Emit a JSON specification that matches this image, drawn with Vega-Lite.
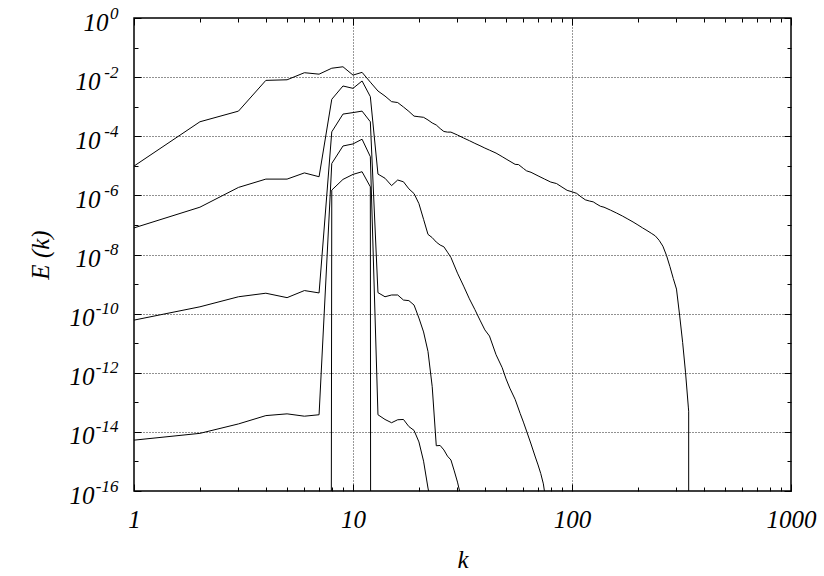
{
  "$schema": "https://vega.github.io/schema/vega-lite/v6.json",
  "width": 657,
  "height": 473,
  "autosize": {"type": "none"},
  "padding": {"left": 134, "top": 18, "right": 33, "bottom": 85},
  "background": "white",
  "config": {
    "view": {"stroke": "black", "strokeWidth": 1.5},
    "axis": {
      "labelFont": "Liberation Serif",
      "labelFontStyle": "italic",
      "labelFontSize": 25,
      "labelColor": "black",
      "titleFont": "Liberation Serif",
      "titleFontStyle": "italic",
      "titleFontWeight": "normal",
      "titleFontSize": 25,
      "titleColor": "black",
      "tickColor": "black",
      "tickWidth": 1
    }
  },
  "data": {"values": [
    {"s":"a","k":1,"E":9.8e-6},{"s":"a","k":2,"E":3.09e-4},{"s":"a","k":3,"E":7.08e-4},{"s":"a","k":4,"E":7.76e-3},{"s":"a","k":5,"E":8.13e-3},{"s":"a","k":6,"E":1.41e-2},{"s":"a","k":7,"E":1.26e-2},{"s":"a","k":8,"E":2.0e-2},{"s":"a","k":9,"E":2.24e-2},{"s":"a","k":10,"E":1.17e-2},{"s":"a","k":11,"E":1.45e-2},{"s":"a","k":12,"E":6.76e-3},{"s":"a","k":13,"E":3.39e-3},{"s":"a","k":14,"E":2.29e-3},{"s":"a","k":15,"E":1.48e-3},{"s":"a","k":16,"E":1.38e-3},{"s":"a","k":17,"E":9.77e-4},{"s":"a","k":18,"E":6.92e-4},{"s":"a","k":19,"E":4.79e-4},{"s":"a","k":20,"E":4.57e-4},{"s":"a","k":21,"E":4.37e-4},{"s":"a","k":22,"E":3.55e-4},{"s":"a","k":23,"E":2.82e-4},{"s":"a","k":24,"E":2.40e-4},{"s":"a","k":25,"E":1.82e-4},{"s":"a","k":26,"E":1.45e-4},{"s":"a","k":27,"E":1.38e-4},{"s":"a","k":28,"E":1.38e-4},{"s":"a","k":30,"E":1.10e-4},{"s":"a","k":32,"E":8.71e-5},{"s":"a","k":34,"E":7.08e-5},{"s":"a","k":36,"E":5.75e-5},{"s":"a","k":38,"E":4.79e-5},{"s":"a","k":40,"E":3.98e-5},{"s":"a","k":42,"E":3.39e-5},{"s":"a","k":45,"E":2.69e-5},{"s":"a","k":48,"E":2.04e-5},{"s":"a","k":50,"E":1.70e-5},{"s":"a","k":55,"E":1.12e-5},{"s":"a","k":57,"E":1.10e-5},{"s":"a","k":60,"E":8.13e-6},{"s":"a","k":62,"E":6.76e-6},{"s":"a","k":65,"E":6.03e-6},{"s":"a","k":70,"E":4.57e-6},{"s":"a","k":75,"E":3.55e-6},{"s":"a","k":80,"E":2.82e-6},{"s":"a","k":85,"E":2.51e-6},{"s":"a","k":90,"E":1.91e-6},{"s":"a","k":95,"E":1.48e-6},{"s":"a","k":100,"E":1.32e-6},{"s":"a","k":105,"E":1.17e-6},{"s":"a","k":110,"E":8.91e-7},{"s":"a","k":115,"E":7.08e-7},{"s":"a","k":120,"E":6.46e-7},{"s":"a","k":125,"E":6.03e-7},{"s":"a","k":130,"E":5.01e-7},{"s":"a","k":135,"E":4.27e-7},{"s":"a","k":140,"E":3.98e-7},{"s":"a","k":150,"E":3.16e-7},{"s":"a","k":160,"E":2.51e-7},{"s":"a","k":170,"E":2.0e-7},{"s":"a","k":180,"E":1.58e-7},{"s":"a","k":190,"E":1.26e-7},{"s":"a","k":200,"E":1.0e-7},{"s":"a","k":210,"E":7.94e-8},{"s":"a","k":220,"E":6.46e-8},{"s":"a","k":230,"E":5.25e-8},{"s":"a","k":240,"E":4.27e-8},{"s":"a","k":250,"E":3.02e-8},{"s":"a","k":260,"E":1.91e-8},{"s":"a","k":270,"E":9.33e-9},{"s":"a","k":280,"E":3.89e-9},{"s":"a","k":290,"E":1.55e-9},{"s":"a","k":300,"E":6.76e-10},{"s":"a","k":310,"E":8.91e-11},{"s":"a","k":320,"E":1.07e-11},{"s":"a","k":330,"E":1.0e-12},{"s":"a","k":340,"E":6.46e-14},{"s":"a","k":341,"E":5.0e-14},{"s":"a","k":342,"E":1e-300},
    {"s":"b","k":1,"E":7.94e-8},{"s":"b","k":2,"E":3.98e-7},{"s":"b","k":3,"E":1.86e-6},{"s":"b","k":4,"E":3.55e-6},{"s":"b","k":5,"E":3.55e-6},{"s":"b","k":6,"E":5.75e-6},{"s":"b","k":7,"E":4.27e-6},{"s":"b","k":8,"E":1.78e-3},{"s":"b","k":9,"E":5.01e-3},{"s":"b","k":10,"E":4.17e-3},{"s":"b","k":11,"E":7.41e-3},{"s":"b","k":12,"E":2.19e-3},{"s":"b","k":13,"E":5.25e-6},{"s":"b","k":14,"E":3.80e-6},{"s":"b","k":15,"E":2.14e-6},{"s":"b","k":16,"E":3.31e-6},{"s":"b","k":17,"E":2.88e-6},{"s":"b","k":18,"E":1.66e-6},{"s":"b","k":19,"E":1.15e-6},{"s":"b","k":20,"E":5.25e-7},{"s":"b","k":21,"E":1.55e-7},{"s":"b","k":22,"E":4.79e-8},{"s":"b","k":23,"E":3.72e-8},{"s":"b","k":24,"E":2.63e-8},{"s":"b","k":25,"E":2.09e-8},{"s":"b","k":26,"E":1.82e-8},{"s":"b","k":27,"E":1.20e-8},{"s":"b","k":28,"E":7.94e-9},{"s":"b","k":30,"E":2.34e-9},{"s":"b","k":32,"E":8.51e-10},{"s":"b","k":34,"E":3.16e-10},{"s":"b","k":36,"E":1.38e-10},{"s":"b","k":38,"E":6.03e-11},{"s":"b","k":40,"E":2.82e-11},{"s":"b","k":42,"E":1.74e-11},{"s":"b","k":45,"E":4.07e-12},{"s":"b","k":48,"E":1.48e-12},{"s":"b","k":50,"E":6.17e-13},{"s":"b","k":52,"E":3.02e-13},{"s":"b","k":55,"E":1.26e-13},{"s":"b","k":58,"E":4.17e-14},{"s":"b","k":60,"E":2.14e-14},{"s":"b","k":62,"E":1.07e-14},{"s":"b","k":65,"E":3.89e-15},{"s":"b","k":68,"E":1.41e-15},{"s":"b","k":70,"E":7.59e-16},{"s":"b","k":72,"E":3.89e-16},{"s":"b","k":74,"E":1.74e-16},{"s":"b","k":75,"E":8.9e-17},
    {"s":"c","k":1,"E":6.03e-11},{"s":"c","k":2,"E":1.70e-10},{"s":"c","k":3,"E":3.72e-10},{"s":"c","k":4,"E":4.90e-10},{"s":"c","k":5,"E":3.47e-10},{"s":"c","k":6,"E":6.03e-10},{"s":"c","k":7,"E":5.01e-10},{"s":"c","k":8,"E":1.41e-4},{"s":"c","k":9,"E":5.62e-4},{"s":"c","k":10,"E":6.31e-4},{"s":"c","k":11,"E":7.08e-4},{"s":"c","k":12,"E":3.09e-4},{"s":"c","k":13,"E":5.13e-10},{"s":"c","k":14,"E":3.72e-10},{"s":"c","k":15,"E":4.27e-10},{"s":"c","k":16,"E":4.27e-10},{"s":"c","k":17,"E":2.88e-10},{"s":"c","k":18,"E":2.75e-10},{"s":"c","k":19,"E":1.95e-10},{"s":"c","k":20,"E":7.08e-11},{"s":"c","k":21,"E":2.40e-11},{"s":"c","k":22,"E":5.25e-12},{"s":"c","k":23,"E":3.39e-13},{"s":"c","k":24,"E":3.39e-15},{"s":"c","k":25,"E":3.47e-15},{"s":"c","k":26,"E":2.45e-15},{"s":"c","k":27,"E":1.51e-15},{"s":"c","k":28,"E":1.12e-15},{"s":"c","k":29,"E":4.79e-16},{"s":"c","k":30,"E":2.0e-16},{"s":"c","k":31,"E":7.2e-17},
    {"s":"d","k":1,"E":5.25e-15},{"s":"d","k":2,"E":8.91e-15},{"s":"d","k":3,"E":1.86e-14},{"s":"d","k":4,"E":3.55e-14},{"s":"d","k":5,"E":4.07e-14},{"s":"d","k":6,"E":3.39e-14},{"s":"d","k":7,"E":3.80e-14},{"s":"d","k":8,"E":1.20e-5},{"s":"d","k":9,"E":4.68e-5},{"s":"d","k":10,"E":5.50e-5},{"s":"d","k":11,"E":7.94e-5},{"s":"d","k":12,"E":2.04e-5},{"s":"d","k":13,"E":3.80e-14},{"s":"d","k":14,"E":2.63e-14},{"s":"d","k":15,"E":2.04e-14},{"s":"d","k":16,"E":2.57e-14},{"s":"d","k":17,"E":2.63e-14},{"s":"d","k":18,"E":1.51e-14},{"s":"d","k":19,"E":1.12e-14},{"s":"d","k":20,"E":4.57e-15},{"s":"d","k":21,"E":1.02e-15},{"s":"d","k":22,"E":1.26e-16},{"s":"d","k":23,"E":2.5e-17},
    {"s":"e","k":7,"E":1e-300},{"s":"e","k":8,"E":1.51e-6},{"s":"e","k":9,"E":3.47e-6},{"s":"e","k":10,"E":5.13e-6},{"s":"e","k":11,"E":6.31e-6},{"s":"e","k":12,"E":1.95e-6},{"s":"e","k":13,"E":1e-300}
  ]},
  "layer": [
    {
      "mark": {"type": "point", "opacity": 0},
      "encoding": {
        "x": {"field": "k", "type": "quantitative", "scale": {"type": "log", "domain": [1, 1000], "nice": false},
              "axis": {"orient": "bottom", "values": [10, 100], "grid": true, "gridColor": "#333", "gridDash": [1, 2], "gridWidth": 1, "ticks": false, "labels": false, "domain": false, "title": null}},
        "y": {"field": "E", "type": "quantitative", "scale": {"type": "log", "domain": [1e-16, 1], "nice": false},
              "axis": {"orient": "left", "values": [1e-2, 1e-4, 1e-6, 1e-8, 1e-10, 1e-12, 1e-14], "grid": true, "gridColor": "#222", "gridDash": [1, 2], "gridWidth": 1, "ticks": false, "labels": false, "domain": false, "title": null}}
      }
    },
    {
      "mark": {"type": "point", "opacity": 0},
      "encoding": {
        "x": {"field": "k", "type": "quantitative", "scale": {"type": "log", "domain": [1, 1000], "nice": false},
              "axis": {"orient": "bottom", "values": [1, 10, 100, 1000], "grid": false, "ticks": true, "tickSize": -7, "labels": false, "domain": false, "title": null}},
        "y": {"field": "E", "type": "quantitative", "scale": {"type": "log", "domain": [1e-16, 1], "nice": false},
              "axis": {"orient": "left", "values": [1, 1e-2, 1e-4, 1e-6, 1e-8, 1e-10, 1e-12, 1e-14, 1e-16], "grid": false, "ticks": true, "tickSize": -7, "labels": false, "domain": false, "title": null}}
      }
    },
    {
      "mark": {"type": "point", "opacity": 0},
      "encoding": {
        "x": {"field": "k", "type": "quantitative", "scale": {"type": "log", "domain": [1, 1000], "nice": false},
              "axis": {"orient": "top", "values": [1, 10, 100, 1000], "grid": false, "ticks": true, "tickSize": -7, "labels": false, "domain": false, "title": null}},
        "y": {"field": "E", "type": "quantitative", "scale": {"type": "log", "domain": [1e-16, 1], "nice": false},
              "axis": {"orient": "right", "values": [1, 1e-2, 1e-4, 1e-6, 1e-8, 1e-10, 1e-12, 1e-14, 1e-16], "grid": false, "ticks": true, "tickSize": -7, "labels": false, "domain": false, "title": null}}
      }
    },
    {
      "mark": {"type": "point", "opacity": 0},
      "encoding": {
        "x": {"field": "k", "type": "quantitative", "scale": {"type": "log", "domain": [1, 1000], "nice": false},
              "axis": {"orient": "bottom", "values": [2, 3, 4, 5, 6, 7, 8, 9, 20, 30, 40, 50, 60, 70, 80, 90, 200, 300, 400, 500, 600, 700, 800, 900], "grid": false, "ticks": true, "tickSize": -4, "labels": false, "domain": false, "title": null}},
        "y": {"field": "E", "type": "quantitative", "scale": {"type": "log", "domain": [1e-16, 1], "nice": false},
              "axis": {"orient": "left", "values": [1e-1, 1e-3, 1e-5, 1e-7, 1e-9, 1e-11, 1e-13, 1e-15], "grid": false, "ticks": true, "tickSize": -4, "labels": false, "domain": false, "title": null}}
      }
    },
    {
      "mark": {"type": "point", "opacity": 0},
      "encoding": {
        "x": {"field": "k", "type": "quantitative", "scale": {"type": "log", "domain": [1, 1000], "nice": false},
              "axis": {"orient": "top", "values": [2, 3, 4, 5, 6, 7, 8, 9, 20, 30, 40, 50, 60, 70, 80, 90, 200, 300, 400, 500, 600, 700, 800, 900], "grid": false, "ticks": true, "tickSize": -4, "labels": false, "domain": false, "title": null}},
        "y": {"field": "E", "type": "quantitative", "scale": {"type": "log", "domain": [1e-16, 1], "nice": false},
              "axis": {"orient": "right", "values": [1e-1, 1e-3, 1e-5, 1e-7, 1e-9, 1e-11, 1e-13, 1e-15], "grid": false, "ticks": true, "tickSize": -4, "labels": false, "domain": false, "title": null}}
      }
    },
    {
      "mark": {"type": "point", "opacity": 0},
      "encoding": {
        "x": {"field": "k", "type": "quantitative", "scale": {"type": "log", "domain": [1, 1000], "nice": false}, "axis": null},
        "y": {"field": "E", "type": "quantitative", "scale": {"type": "log", "domain": [1e-16, 1], "nice": false},
              "axis": {"orient": "left", "values": [1], "grid": false, "ticks": false, "domain": false, "labelExpr": "'10'",
                       "labelPadding": 26, "labelAlign": "right", "labelBaseline": "middle", "labelOffset": 4,
                       "labelFlush": false, "labelOverlap": false, "labelBound": false, "title": null}}
      }
    },
    {
      "mark": {"type": "point", "opacity": 0},
      "encoding": {
        "x": {"field": "k", "type": "quantitative", "scale": {"type": "log", "domain": [1, 1000], "nice": false}, "axis": null},
        "y": {"field": "E", "type": "quantitative", "scale": {"type": "log", "domain": [1e-16, 1], "nice": false},
              "axis": {"orient": "left", "values": [1e-10, 1e-12, 1e-14, 1e-16], "grid": false, "ticks": false, "domain": false, "labelExpr": "'10'",
                       "labelPadding": 40, "labelAlign": "right", "labelBaseline": "middle", "labelOffset": 4,
                       "labelFlush": false, "labelOverlap": false, "labelBound": false, "title": null}}
      }
    },
    {
      "mark": {"type": "point", "opacity": 0},
      "encoding": {
        "x": {"field": "k", "type": "quantitative", "scale": {"type": "log", "domain": [1, 1000], "nice": false}, "axis": null},
        "y": {"field": "E", "type": "quantitative", "scale": {"type": "log", "domain": [1e-16, 1], "nice": false},
              "axis": {"orient": "left", "values": [1, 1e-2, 1e-4, 1e-6, 1e-8, 1e-10, 1e-12, 1e-14, 1e-16], "grid": false, "ticks": false, "domain": false,
                       "labelExpr": "'' + round(log(datum.value) / LN10)", "labelFontSize": 17,
                       "labelPadding": 16, "labelAlign": "right", "labelBaseline": "middle", "labelOffset": -5,
                       "labelFlush": false, "labelOverlap": false, "labelBound": false, "title": null}}
      }
    },
    {
      "mark": {"type": "line", "color": "black", "strokeWidth": 1, "clip": true},
      "encoding": {
        "x": {"field": "k", "type": "quantitative", "scale": {"type": "log", "domain": [1, 1000], "nice": false},
              "axis": {"orient": "bottom", "values": [1, 10, 100, 1000], "grid": false, "ticks": false, "domain": false,
                       "labelExpr": "format(datum.value, 'd')", "labelPadding": 36, "labelBaseline": "alphabetic", "labelAlign": "center",
                       "labelFlush": false, "labelOverlap": false, "labelBound": false,
                       "title": "k", "titleX": 328.5, "titleY": 76, "titleAlign": "center", "titleBaseline": "alphabetic"}},
        "y": {"field": "E", "type": "quantitative", "scale": {"type": "log", "domain": [1e-16, 1], "nice": false},
              "axis": {"orient": "left", "values": [1e-2, 1e-4, 1e-6, 1e-8], "grid": false, "ticks": false, "domain": false,
                       "labelExpr": "'10'",
                       "labelPadding": 34, "labelAlign": "right", "labelBaseline": "middle", "labelOffset": 4,
                       "labelFlush": false, "labelOverlap": false, "labelBound": false,
                       "title": "E (k)", "titleX": -94, "titleY": 236.5, "titleAngle": -90, "titleAlign": "center", "titleBaseline": "middle"}},
        "detail": {"field": "s", "type": "nominal"}
      }
    }
  ],
  "resolve": {"axis": {"x": "independent", "y": "independent"}}
}
